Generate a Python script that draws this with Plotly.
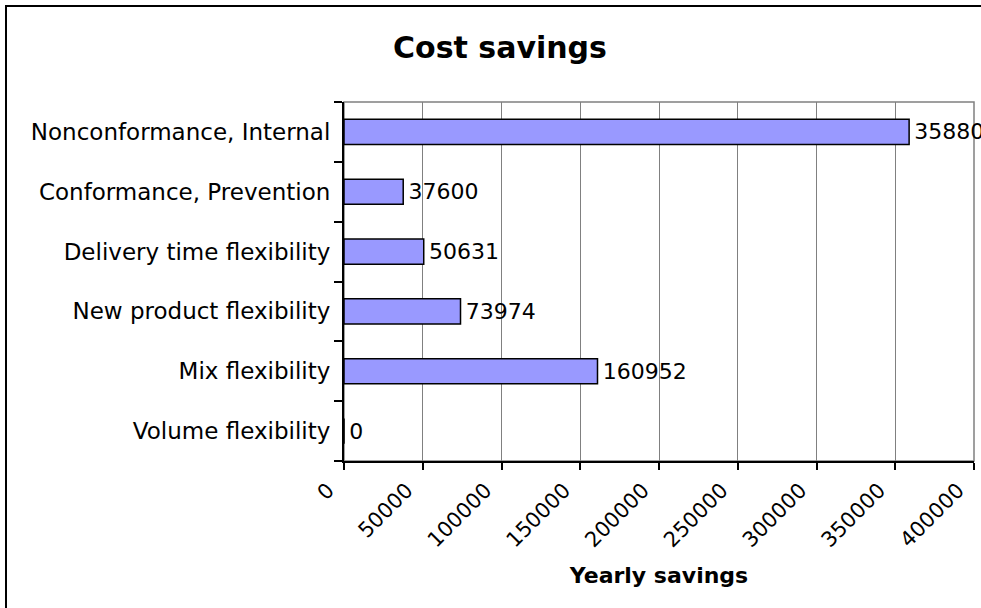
import plotly.graph_objects as go

categories = ["Nonconformance, Internal", "Conformance, Prevention", "Delivery time flexibility",
              "New product flexibility", "Mix flexibility", "Volume flexibility"]
savings = [358807, 37600, 50631, 73974, 160952, 0]
x_ticks = [0, 50000, 100000, 150000, 200000, 250000, 300000, 350000, 400000]

FONT = "Verdana, DejaVu Sans, sans-serif"
L, R, T, B = 344, 7, 102, 147
W, H = 981, 608
pw, ph = W - L - R, H - T - B

fig = go.Figure(go.Bar(
    y=categories, x=savings, orientation="h", width=0.42,
    marker=dict(color="#9999FF", line=dict(color="black", width=1.5)),
    text=["\u200a" + str(v) for v in savings], textposition="outside", cliponaxis=False,
    constraintext="none",
    textfont=dict(family=FONT, size=22, color="black"),
))

fig.update_layout(
    width=W, height=H, margin=dict(l=L, r=R, t=T, b=B, pad=0, autoexpand=False),
    paper_bgcolor="white", plot_bgcolor="white", showlegend=False,
    font=dict(family=FONT, color="black"),
    title=dict(text="<b>Cost savings</b>", x=500 / W, xanchor="center",
               y=1 - 47 / H, yanchor="middle", font=dict(family=FONT, size=30, color="black")),
    xaxis=dict(range=[0, 400000.5], tickvals=x_ticks, ticktext=[str(v) for v in x_ticks],
               tickangle=-45, tickfont=dict(family=FONT, size=21, color="black"),
               ticklabeloverflow="allow", ticklabelshift=-16, automargin=False,
               showgrid=True, gridcolor="#808080", gridwidth=1, zeroline=False,
               showline=True, linecolor="black", linewidth=1.5,
               ticks="outside", ticklen=7, tickcolor="black", tickwidth=1.5,
               title=dict(text="<b>Yearly savings</b>", font=dict(family=FONT, size=22, color="black"),
                          standoff=16)),
    yaxis=dict(categoryorder="array", categoryarray=categories[::-1], tickson="boundaries",
               tickfont=dict(family=FONT, size=23, color="black"), showgrid=False, zeroline=False,
               showline=True, linecolor="black", linewidth=1.5, automargin=False,
               ticks="outside", ticklen=8, tickcolor="black", tickwidth=1.5, ticksuffix=" "),
    shapes=[
        dict(type="rect", xref="paper", yref="paper", x0=0, y0=0, x1=1, y1=1,
             line=dict(color="#808080", width=1.5), layer="below"),
        dict(type="rect", xref="paper", yref="paper",
             x0=(6 - L) / pw, y0=-(H - T) / ph - 0.2, x1=1 + 20 / pw, y1=1 + (T - 6) / ph,
             line=dict(color="black", width=2), layer="above"),
    ],
)

fig.write_html("out.html")
